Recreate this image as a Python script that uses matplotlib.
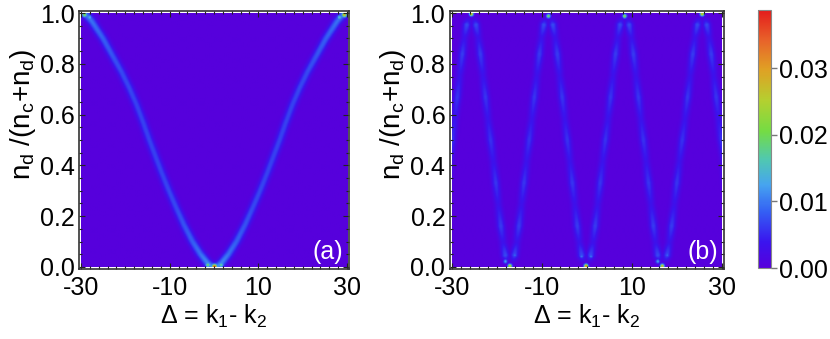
import matplotlib
matplotlib.use('Agg')
import matplotlib.pyplot as plt
import numpy as np
from matplotlib.colors import LinearSegmentedColormap, Normalize
from matplotlib.cm import ScalarMappable
from matplotlib.ticker import MultipleLocator

plt.rcParams['font.family'] = ['Liberation Sans', 'DejaVu Sans']
plt.rcParams['mathtext.fontset'] = 'custom'
plt.rcParams['mathtext.rm'] = 'Liberation Sans'
plt.rcParams['mathtext.it'] = 'Liberation Sans'

# panel (a): ridge (Delta, n_d/(n_c+n_d), height)
ridge_a_x = [-31.0, -29.2, -27.7, -25.1, -22.9, -21.0, -19.2, -17.6, -16.1, -14.7, -13.3, -11.9,
             -10.3, -8.7, -6.9, -5.0, -3.2, -1.5, 0.0,
             1.5, 3.2, 5.0, 6.9, 8.7, 10.3, 11.9, 13.3, 14.7, 16.1, 17.6, 19.2, 21.0, 22.9,
             25.1, 27.7, 29.2, 31.0]
ridge_a_y = [1.05, 1.0, 0.97, 0.90, 0.83, 0.77, 0.705, 0.64, 0.57, 0.50, 0.435, 0.37,
             0.30, 0.235, 0.165, 0.10, 0.05, 0.012, -0.01,
             0.012, 0.05, 0.10, 0.165, 0.235, 0.30, 0.37, 0.435, 0.50, 0.57, 0.64, 0.705, 0.77, 0.83,
             0.90, 0.97, 1.0, 1.05]
ridge_a_level = [0.010, 0.010, 0.0095, 0.0085, 0.0078, 0.0072, 0.0070, 0.0068, 0.0068, 0.0068, 0.0068, 0.0068,
                 0.0070, 0.0072, 0.0078, 0.0085, 0.0095, 0.011, 0.012,
                 0.011, 0.0095, 0.0085, 0.0078, 0.0072, 0.0070, 0.0068, 0.0068, 0.0068, 0.0068, 0.0068, 0.0070,
                 0.0072, 0.0078, 0.0085, 0.0095, 0.010, 0.010]
# bright spots at the turning points
spots_a_x = [-29.3, -28.2, 28.2, 29.3, -1.5, 0.0, 1.5]
spots_a_y = [0.995, 0.985, 0.985, 0.995, 0.006, 0.0, 0.006]
spots_a_level = [0.022, 0.014, 0.016, 0.030, 0.020, 0.037, 0.018]

# panel (b): turning points of the oscillating ridge and the shape of one half swing
vertex_b_x = [-34.4, -25.8, -17.2, -8.6, -0.2, 8.4, 16.8, 25.7, 34.3]
vertex_b_y = [0.0, 1.0, 0.0, 1.0, 0.0, 1.0, 0.0, 1.0, 0.0]
swing_frac = [0.0, 0.06, 0.12, 0.18, 0.235, 0.30, 0.365, 0.43, 0.5, 0.57, 0.635, 0.70,
              0.765, 0.82, 0.88, 0.94, 1.0]
swing_drop = [0.0, 0.015, 0.045, 0.095, 0.16, 0.245, 0.33, 0.415, 0.5, 0.585, 0.67, 0.755,
              0.84, 0.905, 0.955, 0.985, 1.0]
swing_level = [0.0, 0.0010, 0.0072, 0.0034, 0.0064, 0.0034, 0.0060, 0.0036, 0.0058, 0.0036, 0.0060, 0.0034,
               0.0064, 0.0034, 0.0072, 0.0010, 0.0]
spots_b_x = [-25.8, -8.6, 8.4, 25.7, -17.2, -18.2, -16.1, -0.2, -1.2, 0.9, 16.8, 15.8, 17.9]
spots_b_y = [0.998, 0.99, 0.99, 0.998, 0.002, 0.02, 0.045, 0.002, 0.04, 0.04, 0.002, 0.02, 0.045]
spots_b_level = [0.030, 0.022, 0.024, 0.030, 0.028, 0.013, 0.009, 0.034, 0.010, 0.010, 0.030, 0.013, 0.009]

cmap = LinearSegmentedColormap.from_list('rainbowish', [
    (0.00, '#5600dc'), (0.10, '#3a14ee'), (0.22, '#3460f4'), (0.32, '#46a4f0'),
    (0.42, '#50c8b0'), (0.53, '#74dc44'), (0.65, '#b4d030'), (0.77, '#e0a024'),
    (0.88, '#e8642a'), (1.00, '#e41c1c')])
norm = Normalize(0.0, 0.0387)


def field(px, py, lev, sx, sy, width, nx=240, ny=230):
    gx, gy = np.meshgrid(np.linspace(-30, 30, nx), np.linspace(0, 1, ny))
    X = gx.ravel()[:, None] * sx
    Y = gy.ravel()[:, None] * sy
    px = np.asarray(px) * sx
    py = np.asarray(py) * sy
    lev = np.asarray(lev)
    ax0, ay0, l0 = px[:-1], py[:-1], lev[:-1]
    dx, dy, dl = px[1:] - ax0, py[1:] - ay0, lev[1:] - l0
    t = np.clip(((X - ax0) * dx + (Y - ay0) * dy) / (dx ** 2 + dy ** 2), 0, 1)
    d2 = (X - ax0 - t * dx) ** 2 + (Y - ay0 - t * dy) ** 2
    val = ((l0 + t * dl) * np.exp(-d2 / (2 * width ** 2))).max(axis=1)
    return val.reshape(ny, nx), gx, gy


def add_spots(z, gx, gy, xs, ys, ls, sx, sy, width):
    for x, y, l in zip(xs, ys, ls):
        d2 = ((gx - x) * sx) ** 2 + ((gy - y) * sy) ** 2
        z = np.maximum(z, l * np.exp(-d2 / (2 * width ** 2)))
    return z


sx, sy = 4.45, 254.0
za, gxa, gya = field(ridge_a_x, ridge_a_y, ridge_a_level, sx, sy, 3.0)
za = add_spots(za, gxa, gya, spots_a_x, spots_a_y, spots_a_level, sx, sy, 1.8)

bx, by, bl = [], [], []
for i in range(len(vertex_b_x) - 1):
    x0, x1 = vertex_b_x[i], vertex_b_x[i + 1]
    y0, y1 = vertex_b_y[i], vertex_b_y[i + 1]
    for f, d, l in zip(swing_frac, swing_drop, swing_level):
        if i > 0 and f == 0.0:
            continue
        bx.append(x0 + f * (x1 - x0))
        by.append(y0 + d * (y1 - y0))
        bl.append(l)
zb, gxb, gyb = field(bx, by, bl, 4.5, sy, 2.8)
zb = add_spots(zb, gxb, gyb, spots_b_x, spots_b_y, spots_b_level, 4.5, sy, 1.5)

fig = plt.figure(figsize=(8.30, 3.39), dpi=100)
ax_a = fig.add_axes([79 / 830, 70 / 339, 270 / 830, 258 / 339])
ax_b = fig.add_axes([449.5 / 830, 70 / 339, 274.5 / 830, 258 / 339])
cax = fig.add_axes([758 / 830, 71 / 339, 13 / 830, 258 / 339])

for ax, z, lab, xl, lx in [(ax_a, za, '(a)', (-30.45, 30.45), -0.15),
                           (ax_b, zb, '(b)', (-30.55, 30.45), -0.15)]:
    ax.imshow(z, cmap=cmap, norm=norm, origin='lower', extent=[-30, 30, 0, 1],
              aspect='auto', interpolation='bilinear')
    ax.set_xlim(*xl)
    ax.set_ylim(-0.008, 1.008)
    ax.set_xticks([-30, -10, 10, 30])
    ax.set_xticklabels(['-30', '-10', '10', '30'])
    ax.xaxis.set_minor_locator(MultipleLocator(2))
    ax.set_yticks([0.0, 0.2, 0.4, 0.6, 0.8, 1.0])
    ax.set_yticklabels(['0.0', '0.2', '0.4', '0.6', '0.8', '1.0'])
    ax.yaxis.set_minor_locator(MultipleLocator(0.05))
    ax.tick_params(which='both', direction='in', top=True, right=True, labelsize=18,
                   width=0.8, color='#222222')
    ax.tick_params(axis='x', pad=5)
    ax.tick_params(axis='y', pad=3)
    ax.tick_params(which='major', length=4)
    ax.tick_params(which='minor', length=2)
    for s in ax.spines.values():
        s.set_linewidth(1.2)
        s.set_color('#333333')
    ax.set_xlabel('Δ = k$_{\\rm 1}$- k$_{\\rm 2}$', fontsize=18, labelpad=2)
    ax.set_ylabel('n$_{\\rm d}$ /(n$_{\\rm c}$+n$_{\\rm d}$)', fontsize=20)
    ax.yaxis.set_label_coords(lx, 0.6)
    ax.text(0.978, 0.04, lab, transform=ax.transAxes, ha='right', va='baseline',
            color='white', fontsize=18)

cb = fig.colorbar(ScalarMappable(norm=norm, cmap=cmap), cax=cax)
cb.set_ticks([0.0, 0.01, 0.02, 0.03])
cb.set_ticklabels(['0.00', '0.01', '0.02', '0.03'])
cb.outline.set_edgecolor('#888888')
cb.outline.set_linewidth(0.8)
cax.tick_params(direction='out', length=4, width=1, color='#777777', labelsize=18, pad=2)

fig.savefig('out.png', dpi=100)
